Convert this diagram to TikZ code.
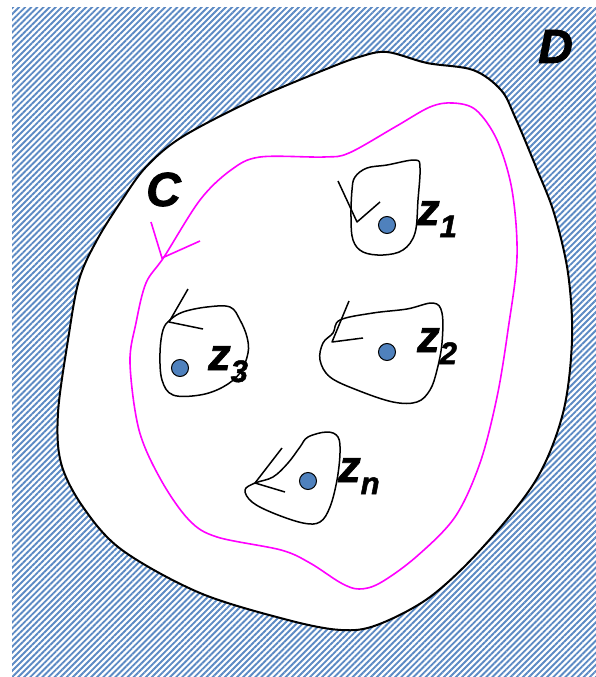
\documentclass[tikz,border=0pt]{standalone}
\usepackage{fontspec}
\setmainfont{Liberation Sans}
\newfontfamily\heavyfont[FakeBold=1.6]{Liberation Sans}
\usepackage{tikz}
\usetikzlibrary{patterns.meta}

\definecolor{ptblue}{RGB}{79,129,189}
\definecolor{hatchblue}{RGB}{92,138,196}
\definecolor{cmagenta}{RGB}{255,0,255}

\newcommand{\zsub}[1]{z\raisebox{-12pt}{\fontsize{31}{31}\selectfont #1}}

\begin{document}
\begin{tikzpicture}[x=1pt, y=-1pt,
    lbl/.style={font=\heavyfont\fontsize{45}{45}\selectfont\bfseries\itshape, inner sep=0pt, anchor=base west},
    big/.style={font=\heavyfont\fontsize{48}{48}\selectfont\bfseries\itshape, inner sep=0pt, anchor=base west},
    pt/.style={circle, draw=black, fill=ptblue, minimum size=17pt, inner sep=0pt, line width=1pt},
    loopline/.style={black, line width=1.5pt, line join=round},
    contour/.style={cmagenta, line width=1.6pt}]
    \useasboundingbox (0,0) rectangle (596,677);

    % Gebiet D
    \fill[white] (0,0) rectangle (596,677);
    \fill[pattern={Lines[angle=45, distance=4.3pt, line width=1.9pt]}, pattern color=hatchblue]
        (12,8) rectangle (596,677);
    \filldraw[fill=white, draw=black, line width=2pt] plot[smooth cycle, tension=0.55] coordinates {
        (387,52) (427,63) (473,70) (501,90) (515,117) (536,167) (554,213) (568,273)
        (572,340) (563,413) (536,480) (483,547) (430,597) (377,625) (341,630)
        (288,620) (200,593) (122,550) (83,507) (61,463) (58,413) (68,340) (79,280)
        (97,240) (122,200) (146,167) (182,137) (253,100) (324,70) (359,57)};
    \node[big] (D) at (538,63) {D};

    % Kontur C
    \draw[contour] plot[smooth cycle, tension=0.55] coordinates {
        (453,103) (430,107) (395,127) (349,153) (324,157) (260,157) (231,170) (200,200)
        (164,257) (146,283) (136,323) (130,363) (139,430) (161,480) (189,520) (217,537)
        (281,550) (310,563) (341,583) (359,589) (380,583) (416,557) (455,517) (480,463)
        (497,397) (508,330) (517,257) (512,190) (497,140) (476,110)};
    \coordinate (ctip) at (162,258);
    \draw[contour] (151,222) -- (ctip) -- (200,241);
    \node[big] (C) at (146,206) {C};

    % z1
    \draw[loopline] plot[smooth cycle, tension=0.6] coordinates {
        (355,177) (367,168) (387,165) (415,160) (420,168) (418,200) (415,233)
        (403,250) (383,255) (363,252) (353,240) (351,217) (352,190)};
    \coordinate (t1) at (357,222);
    \draw[loopline] (338,181) -- (t1) -- (380,202);
    \node[pt] (p1) at (387,225) {};
    \node[lbl] (z1) at (417,225) {\zsub{1}};

    % z2
    \draw[loopline] plot[smooth cycle, tension=0.6] coordinates {
        (340,320) (373,313) (407,309) (433,303) (442,313) (442,343) (437,370)
        (430,390) (417,402) (393,402) (357,390) (330,377) (320,360) (323,343) (333,333)};
    \coordinate (t2) at (332,342);
    \draw[loopline] (349,301) -- (t2) -- (363,338);
    \node[pt] (p2) at (387,352) {};
    \node[lbl] (z2) at (417,352) {\zsub{2}};

    % z3
    \draw[loopline] plot[smooth cycle, tension=0.6] coordinates {
        (170,320) (183,312) (207,307) (230,307) (240,320) (247,337) (248,353)
        (240,373) (223,387) (200,395) (173,395) (162,380) (160,353) (163,330)};
    \coordinate (t3) at (169,322);
    \draw[loopline] (188,289) -- (t3) -- (203,329);
    \node[pt] (p3) at (180,368) {};
    \node[lbl] (z3) at (208,370) {\zsub{3}};

    % zn
    \draw[loopline] plot[smooth cycle, tension=0.6] coordinates {
        (308,437) (327,432) (338,437) (340,453) (337,480) (330,507) (320,522)
        (303,523) (273,513) (252,502) (245,490) (255,483) (273,477) (288,463) (300,447)};
    \coordinate (tn) at (255,483);
    \draw[loopline] (282,448) -- (tn) -- (285,492);
    \node[pt] (pn) at (308,481) {};
    \node[lbl] (zn) at (338,482) {\zsub{n}};
\end{tikzpicture}
\end{document}
